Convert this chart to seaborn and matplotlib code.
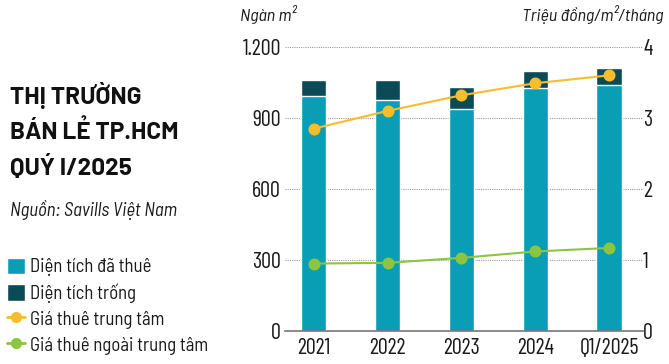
import pandas as pd
import matplotlib.pyplot as plt
import seaborn as sns
from matplotlib.lines import Line2D
from matplotlib.patches import Patch

# data
years = ['2021', '2022', '2023', '2024', 'Q1/2025']
occupied = [993, 976, 938, 1027, 1039]        # ngan m2
total_supply = [1060, 1060, 1031, 1098, 1111]  # ngan m2 (occupied + vacant)
rent_cbd = [2.85, 3.10, 3.32, 3.49, 3.60]      # trieu dong/m2/thang
rent_non_cbd = [0.95, 0.96, 1.03, 1.12, 1.17]

df = pd.DataFrame({'year': years, 'occupied': occupied, 'total': total_supply,
                   'cbd': rent_cbd, 'noncbd': rent_non_cbd})

c_occ = '#0A9DB6'
c_vac = '#0D4A57'
c_cbd = '#F8BD2A'
c_non = '#8CC540'
txt_c = '#1a1a1a'
semi = ['Barlow Semi Condensed', 'DejaVu Sans']

sns.set_theme(style='white')
plt.rcParams['font.family'] = ['Barlow Condensed', 'DejaVu Sans']

fig = plt.figure(figsize=(6.69, 3.64), dpi=100)
ax = fig.add_axes([285 / 669, 33 / 364, 358 / 669, 284 / 364])

sns.barplot(data=df, x='year', y='total', color=c_vac, width=0.34, ax=ax, saturation=1)
sns.barplot(data=df, x='year', y='occupied', color=c_occ, width=0.34, ax=ax, saturation=1)
ax.set_ylim(0, 1200)
ax.set_yticks([0, 300, 600, 900, 1200])
ax.set_yticklabels(['0', '300', '600', '900', '1.200'])
ax.set_xlim(-0.39, 4.46)
ax.set_xlabel('')
ax.set_ylabel('')
ax.grid(axis='y', linestyle=(0, (1, 1)), color='#999999', linewidth=0.8)
ax.set_axisbelow(True)
for s in ['top', 'left', 'right']:
    ax.spines[s].set_visible(False)
ax.spines['bottom'].set_color('#777777')
ax.spines['bottom'].set_linewidth(1.2)
ax.tick_params(axis='both', length=0, labelsize=16, colors=txt_c)
ax.tick_params(axis='y', pad=3)
ax.tick_params(axis='x', pad=5)

ax2 = ax.twinx()
sns.pointplot(data=df, x='year', y='cbd', color=c_cbd, markers='o', markersize=7.5,
              linewidth=1.5, ax=ax2)
sns.pointplot(data=df, x='year', y='noncbd', color=c_non, markers='o', markersize=7.5,
              linewidth=1.5, ax=ax2)
ax2.set_ylim(0, 4)
ax2.set_yticks([0, 1, 2, 3, 4])
ax2.set_xlim(-0.39, 4.46)
ax2.set_ylabel('')
ax2.set_xlabel('')
for s in ['top', 'left', 'right', 'bottom']:
    ax2.spines[s].set_visible(False)
ax2.tick_params(axis='y', length=0, labelsize=16, pad=0, colors=txt_c)
ax2.grid(False)

fig.text(240 / 669, 1 - 14 / 364, 'Ngàn m²', fontsize=13, style='italic', va='center',
         color=txt_c, family=semi)
fig.text(663 / 669, 1 - 14 / 364, 'Triệu đồng/m²/tháng', fontsize=13, style='italic',
         va='center', ha='right', color=txt_c, family=semi)

fig.text(10 / 669, 1 - 131 / 364, 'THỊ TRƯỜNG\nBÁN LẺ TP.HCM\nQUÝ I/2025', fontsize=17.5,
         fontweight='bold', va='center', ha='left', linespacing=1.57, color='#111111',
         family=['Barlow', 'DejaVu Sans'])
fig.text(10 / 669, 1 - 210 / 364, 'Nguồn: Savills Việt Nam', fontsize=13.5, style='italic',
         va='center', color=txt_c, family=semi)

handles = [
    Patch(facecolor=c_occ, label='Diện tích đã thuê'),
    Patch(facecolor=c_vac, label='Diện tích trống'),
    Line2D([0], [0], color=c_cbd, marker='o', markersize=7, lw=2, label='Giá thuê trung tâm'),
    Line2D([0], [0], color=c_non, marker='o', markersize=7, lw=2, label='Giá thuê ngoài trung tâm'),
]
fig.legend(handles=handles, loc='upper left', bbox_to_anchor=(-1 / 669, 1 - 250 / 364),
           frameon=False, handlelength=1.0, handleheight=1.0, handletextpad=0.25,
           labelspacing=0.38, borderaxespad=0, labelcolor=txt_c,
           prop={'family': semi, 'size': 13.5})

fig.savefig('out.png', dpi=100)
